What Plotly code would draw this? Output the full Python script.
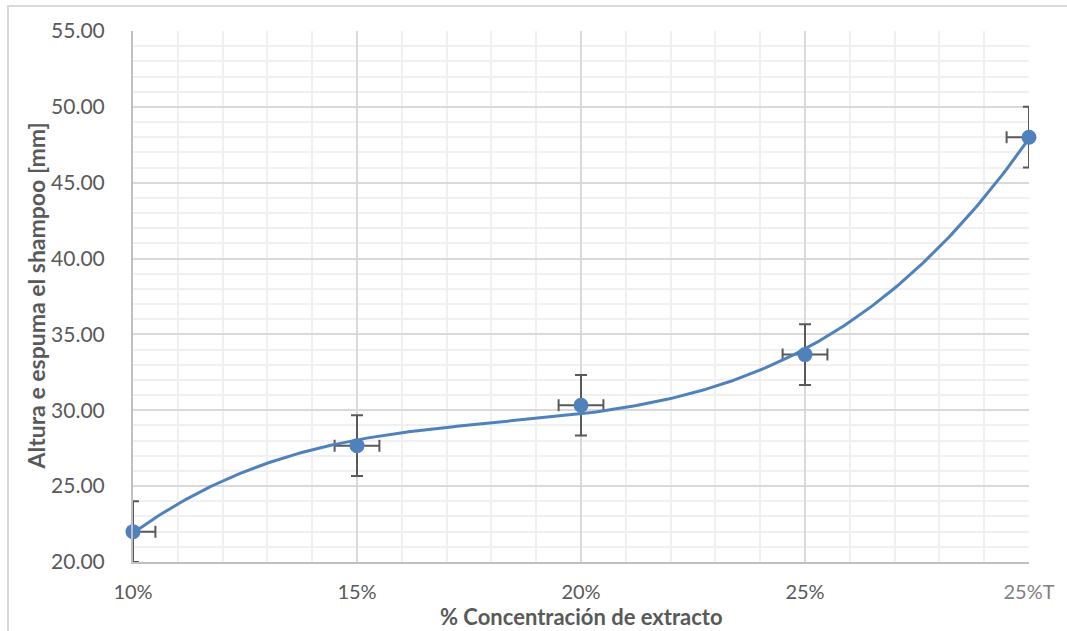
import numpy as np
import plotly.graph_objects as go

# Foam height of the shampoo for each extract concentration
categorias = ["10%", "15%", "20%", "25%", "25%T"]
altura_mm = [22.00, 27.67, 30.33, 33.67, 48.00]
error_y_mm = [2.0, 2.0, 2.0, 2.0, 2.0]
error_x_cat = [0.1, 0.1, 0.1, 0.1, 0.1]

pos = list(range(len(categorias)))

# Third-order polynomial trendline over the category positions
coef = np.polyfit(pos, altura_mm, 3)
xs = np.linspace(pos[0], pos[-1], 300)
ys = np.polyval(coef, xs)

AZUL = "#4F81BD"
GRIS_TXT = "#595959"
FUENTE = "Lato"

fig = go.Figure()

# error bars (clipped to the plotting area)
fig.add_trace(go.Scatter(
    x=pos, y=altura_mm, mode="markers",
    marker=dict(size=1, color="rgba(0,0,0,0)"),
    error_y=dict(type="data", array=error_y_mm, color=GRIS_TXT, thickness=2, width=6),
    error_x=dict(type="data", array=error_x_cat, color=GRIS_TXT, thickness=2, width=6),
    cliponaxis=True, hoverinfo="skip", showlegend=False,
))

# data points
fig.add_trace(go.Scatter(
    x=pos, y=altura_mm, mode="markers",
    marker=dict(size=15, color=AZUL),
    cliponaxis=False, showlegend=False,
))

# trendline
fig.add_trace(go.Scatter(
    x=xs, y=ys, mode="lines",
    line=dict(color=AZUL, width=3),
    hoverinfo="skip", showlegend=False,
))

fig.update_layout(
    width=1067, height=631,
    margin=dict(l=133, r=38, t=31, b=69),
    paper_bgcolor="white", plot_bgcolor="white",
    font=dict(family=FUENTE, size=20, color=GRIS_TXT),
    showlegend=False,
)

fig.update_xaxes(
    range=[0, 4], tickvals=pos, ticktext=categorias[:-1] + ['<span style="color:#7f7f7f">25%T</span>'],
    showgrid=True, gridcolor="#D9D9D9", gridwidth=2,
    minor=dict(dtick=0.2, showgrid=True, gridcolor="#F0F0F0", gridwidth=2),
    showline=True, linecolor="#BFBFBF", linewidth=2,
    zeroline=False, ticks="", ticklabelstandoff=11,
    tickfont=dict(size=20, color=GRIS_TXT),
)
fig.update_yaxes(
    range=[20, 55], dtick=5, tickformat=".2f",
    showgrid=True, gridcolor="#D9D9D9", gridwidth=2,
    minor=dict(dtick=1, showgrid=True, gridcolor="#F0F0F0", gridwidth=2),
    showline=True, linecolor="#BFBFBF", linewidth=2,
    zeroline=False, ticks="", ticklabelstandoff=22,
    tickfont=dict(size=21, color=GRIS_TXT),
)

# axis titles
fig.add_annotation(
    text="<b>Altura e espuma el shampoo [mm]</b>", textangle=-90,
    xref="paper", yref="paper", x=(35 - 133) / 896, y=0.5,
    xanchor="center", yanchor="middle", showarrow=False,
    font=dict(family=FUENTE, size=23, color=GRIS_TXT),
)
fig.add_annotation(
    text="<b>% Concentración de extracto</b>",
    xref="paper", yref="paper", x=0.5, y=(562 - 616) / 531,
    xanchor="center", yanchor="middle", showarrow=False,
    font=dict(family=FUENTE, size=22, color=GRIS_TXT),
)

# chart frame
bx = (8 - 133) / 896
by = (562 - 6) / 531
fig.add_shape(
    type="path", xref="paper", yref="paper",
    path=f"M {bx} -0.3 L {bx} {by} L 1.2 {by}",
    line=dict(color="#D9D9D9", width=2), layer="below",
)

fig.write_html("out.html")
